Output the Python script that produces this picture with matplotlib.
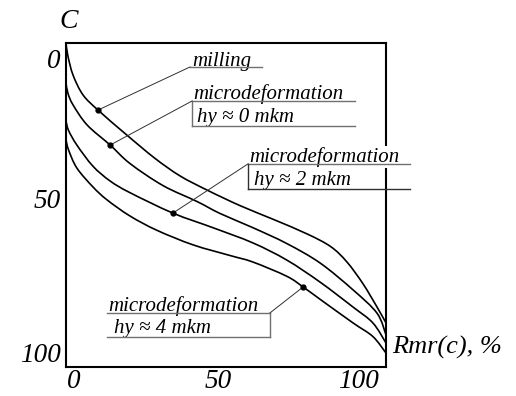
import matplotlib
matplotlib.use('Agg')
import numpy as np
import matplotlib.pyplot as plt
import matplotlib.transforms as mtransforms
from matplotlib.path import Path
from matplotlib.patches import PathPatch

# curves: Rmr(c) in %, C in % (axis inverted)
milling_x = [0, 0.6, 2.2, 5.3, 10, 19, 27.8, 35.6, 44.1, 54.4, 64.7, 75.5, 82.8, 87.8, 92.8, 97.2, 100]
milling_y = [0, 4, 9.9, 16, 20.7, 28.4, 35.6, 41.0, 45.4, 50.2, 54.4, 59.0, 62.9, 67.6, 74.3, 81.5, 86.4]

hy0_x = [0, 0.6, 2.2, 6.6, 13.8, 20, 30.3, 40.9, 48.1, 58.4, 69, 79.4, 89.7, 97.2, 100]
hy0_y = [12.3, 15.5, 19.1, 25.3, 31.5, 37.2, 44.0, 48.9, 52.6, 57.0, 61.9, 67.9, 76.2, 83.4, 90.1]

hy2_x = [0, 0.8, 3.4, 8.4, 13.8, 20, 33.4, 45.9, 58.4, 69, 79.4, 89.7, 95.9, 100]
hy2_y = [24.1, 27, 31.5, 38.0, 42.6, 46.2, 52.5, 57.0, 61.7, 67, 73.8, 81.5, 86.4, 92.6]

hy4_x = [0, 0.8, 3.4, 8.4, 12.8, 20, 28.4, 39.7, 51.3, 58.4, 69, 74.1, 79.4, 89.7, 95.9, 100]
hy4_y = [29.9, 33, 38.6, 44.4, 48.4, 53.4, 57.8, 62.3, 65.6, 67.6, 72.0, 75.3, 79.1, 86.4, 90.6, 95.7]

tick_values = [0, 50, 100]
tick_labels = ['0', '50', '100']

FONT = dict(family='Liberation Serif', style='italic')


def smooth_path(xs, ys):
    # Catmull-Rom through the read points, drawn as cubic Bezier segments
    p = np.column_stack([xs, ys]).astype(float)
    pts = np.vstack([p[0], p, p[-1]])
    verts = [p[0]]
    codes = [Path.MOVETO]
    for i in range(1, len(pts) - 2):
        c1 = pts[i] + (pts[i + 1] - pts[i - 1]) / 6
        c2 = pts[i + 1] - (pts[i + 2] - pts[i]) / 6
        verts += [c1, c2, pts[i + 1]]
        codes += [Path.CURVE4] * 3
    return Path(verts, codes)


fig = plt.figure(figsize=(5.16, 3.96), dpi=100)
ax = fig.add_axes([66 / 516, 1 - 367 / 396, 320 / 516, 324 / 396])

for xs, ys in [(milling_x, milling_y), (hy0_x, hy0_y), (hy2_x, hy2_y), (hy4_x, hy4_y)]:
    ax.add_patch(PathPatch(smooth_path(xs, ys), fill=False, edgecolor='black', lw=1.2))

ax.set_xlim(0, 100)
ax.set_ylim(100, 0)
for s in ax.spines.values():
    s.set_linewidth(1.5)

# tick labels, shifted like in the drawing
ax.set_xticks(tick_values)
ax.set_xticklabels(tick_labels, fontsize=19.5, **FONT)
ax.set_yticks(tick_values)
ax.set_yticklabels(tick_labels, fontsize=19.5, **FONT)
ax.tick_params(length=0, pad=4)
ax.tick_params(axis='x', pad=1)
for lab, dx in zip(ax.get_xticklabels(), [8, -8, -28]):
    lab.set_transform(lab.get_transform() + mtransforms.ScaledTranslation(dx / 100, -1 / 100, fig.dpi_scale_trans))
for lab, dy in zip(ax.get_yticklabels(), [-15, 6, 14]):
    lab.set_transform(lab.get_transform() + mtransforms.ScaledTranslation(0, dy / 100, fig.dpi_scale_trans))

ax.text(0.9, -6.5, 'C', fontsize=20, ha='center', va='center', clip_on=False, **FONT)
ax.text(101.9, 94.1, 'Rmr(c), %', fontsize=19, ha='left', va='center', clip_on=False, **FONT)

lc = '#707070'
ld = '#303030'
fs = 15


def seg(x0, y0, x1, y1, c=lc, lw=1.0):
    ax.plot([x0, x1], [y0, y1], color=c, lw=lw, clip_on=False, zorder=5)


def marker(px, py, tx, ty):
    seg(px, py, tx, ty, c=ld, lw=0.7)
    ax.plot(px, py, 'o', color='black', ms=3.5, zorder=6)


# milling
ax.text(39.5, 7.0, 'milling', fontsize=fs, ha='left', va='baseline', **FONT)
seg(38.75, 7.4, 61.25, 7.4)
marker(10, 20.7, 38.75, 7.4)

# hy ~ 0
ax.text(39.8, 17.3, 'microdeformation', fontsize=fs, ha='left', va='baseline', **FONT)
ax.text(41.0, 24.4, 'hy \u2248 0 mkm', fontsize=fs, ha='left', va='baseline', **FONT)
seg(39.4, 17.9, 90.3, 17.9)
seg(39.4, 17.9, 39.4, 25.6)
seg(39.4, 25.6, 90.3, 25.6)
marker(13.8, 31.5, 39.4, 17.9)

# hy ~ 2
ax.text(57.2, 36.7, 'microdeformation', fontsize=fs, ha='left', va='baseline', zorder=4,
        bbox=dict(facecolor='white', edgecolor='none', pad=0.5), clip_on=False, **FONT)
ax.text(58.8, 43.8, 'hy \u2248 2 mkm', fontsize=fs, ha='left', va='baseline', **FONT)
seg(56.9, 37.3, 107.5, 37.3)
seg(56.9, 37.3, 56.9, 45.1, c=ld)
seg(56.9, 45.1, 107.5, 45.1, c=ld)
marker(33.4, 52.5, 56.9, 37.3)

# hy ~ 4
ax.text(13.1, 82.7, 'microdeformation', fontsize=fs, ha='left', va='baseline', **FONT)
ax.text(15.0, 89.5, 'hy \u2248 4 mkm', fontsize=fs, ha='left', va='baseline', **FONT)
seg(12.8, 83.3, 63.75, 83.3)
seg(63.75, 83.3, 63.75, 90.7)
seg(12.8, 90.7, 63.75, 90.7)
marker(74.1, 75.3, 63.75, 83.3)

fig.savefig('out.png', dpi=100)
